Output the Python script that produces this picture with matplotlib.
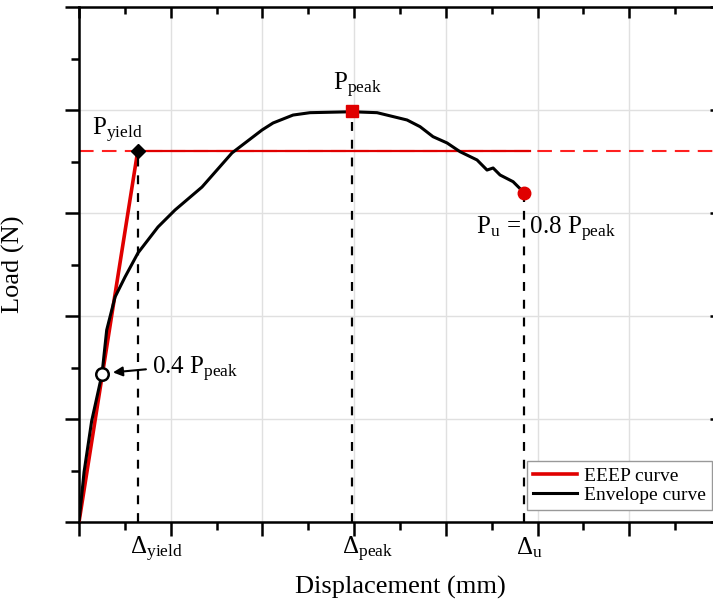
import numpy as np
import matplotlib.pyplot as plt

plt.rcParams['font.family'] = ['Liberation Serif', 'DejaVu Serif']
plt.rcParams['mathtext.fontset'] = 'custom'
plt.rcParams['mathtext.rm'] = 'Liberation Serif'
plt.rcParams['mathtext.it'] = 'Liberation Serif:italic'

# envelope curve (axis units: major tick = 1)
env_x = [0.0, 0.055, 0.138, 0.251, 0.302, 0.393, 0.502, 0.643, 0.861, 1.047,
         1.341, 1.668, 1.996, 2.116, 2.334, 2.519, 2.977, 3.250, 3.577, 3.719,
         3.860, 4.013, 4.155, 4.340, 4.449, 4.515, 4.591, 4.733, 4.842]
env_y = [0.0, 0.485, 0.980, 1.437, 1.864, 2.184, 2.379, 2.612, 2.864, 3.029,
         3.252, 3.583, 3.806, 3.874, 3.951, 3.974, 3.983, 3.974, 3.903, 3.838,
         3.741, 3.680, 3.595, 3.515, 3.417, 3.437, 3.369, 3.304, 3.207]

d_yield, p_yield = 0.64, 3.60
d_peak, p_peak = 2.977, 3.99
d_u, p_u = 4.853, 3.19
d_04, p_04 = 0.251, 1.44
eeep_end = 4.92

fig = plt.figure(figsize=(7.13, 6.03), dpi=100)
pos = [79/713, 81/603, 642/713, 515/603]
ax = fig.add_axes(pos)
ax.set_xlim(0, 7)
ax.set_ylim(0, 5)

ax.grid(True, which='major', color='#e0e0e0', lw=1, zorder=0)

# EEEP curve
ax.plot([0, 7], [p_yield, p_yield], color='#ff2020', lw=1.5, ls=(0, (7, 4)), zorder=2)
ax.plot([d_yield, eeep_end], [p_yield, p_yield], color='#e00000', lw=1.6, zorder=3)
eeep, = ax.plot([0, d_yield], [0, p_yield], color='#e00000', lw=2.6, zorder=3,
                label='EEEP curve')

# envelope
env, = ax.plot(env_x, env_y, color='black', lw=2.2, zorder=4, label='Envelope curve')

# vertical guides
for dx, py in [(d_yield, p_yield), (d_peak, p_peak), (d_u, p_u)]:
    ax.plot([dx, dx], [0, py], color='black', lw=1.6, ls=(0, (4, 4)), zorder=3)

# markers
ax.plot(d_yield, p_yield, marker='D', color='black', ms=7, zorder=6)
ax.plot(d_peak, p_peak, marker='s', color='#e00000', ms=8, zorder=6)
ax.plot(d_u, p_u, marker='o', color='#e00000', ms=9, zorder=6)
ax.plot(d_04, p_04, marker='o', mfc='white', mec='black', mew=1.8, ms=9, zorder=6)

fs = 18
ax.text(0.14, 3.75, r'$\mathrm{P}_{\mathrm{yield}}$', fontsize=fs)
ax.text(2.77, 4.19, r'$\mathrm{P}_{\mathrm{peak}}$', fontsize=fs)
ax.text(4.33, 2.79, r'$\mathrm{P}_{\mathrm{u}}\,=\ 0.8\ \mathrm{P}_{\mathrm{peak}}$', fontsize=fs)
ax.text(0.80, 1.43, r'$0.4\ \mathrm{P}_{\mathrm{peak}}$', fontsize=fs)
ax.annotate('', xy=(0.34, 1.45), xytext=(0.76, 1.485),
            arrowprops=dict(arrowstyle='-|>', color='black', lw=1.5,
                            mutation_scale=14), zorder=7)

for dx, lab in [(0.556, 'yield'), (2.865, 'peak'), (4.77, 'u')]:
    ax.text(dx, -0.13, r'$\Delta_{\mathrm{%s}}$' % lab, fontsize=fs, va='top',
            ha='left', clip_on=False)

ax.set_xlabel('Displacement (mm)', fontsize=19)
ax.set_ylabel('Load (N)', fontsize=19)
ax.xaxis.set_label_coords(321/642, -0.105)
ax.yaxis.set_label_coords(-54/642, 0.5)

ax.set_xticks(np.arange(0, 8, 1))
ax.set_xticks(np.arange(0, 7.5, 0.5), minor=True)
ax.set_yticks(np.arange(0, 6, 1))
ax.set_yticks(np.arange(0, 5.5, 0.5), minor=True)
ax.set_xticklabels([])
ax.set_yticklabels([])
ax.tick_params(which='major', direction='out', length=10, width=1.8)
ax.tick_params(which='minor', direction='out', length=6, width=1.8)
for s in ax.spines.values():
    s.set_linewidth(1.8)

# inward ticks on top and right
ax2 = fig.add_axes(pos, frameon=False)
ax2.patch.set_visible(False)
ax2.set_xlim(0, 7)
ax2.set_ylim(0, 5)
ax2.xaxis.tick_top()
ax2.yaxis.tick_right()
ax2.set_xticks(np.arange(0, 8, 1))
ax2.set_xticks(np.arange(0, 7.5, 0.5), minor=True)
ax2.set_yticks(np.arange(0, 6, 1))
ax2.set_yticks(np.arange(0, 5.5, 0.5), minor=True)
ax2.set_xticklabels([])
ax2.set_yticklabels([])
ax2.tick_params(which='major', direction='in', length=8, width=1.8)
ax2.tick_params(which='minor', direction='in', length=5, width=1.8)

leg = ax.legend(handles=[eeep, env], loc='lower right', fontsize=14,
                bbox_to_anchor=(712/713, 93/603), bbox_transform=fig.transFigure,
                fancybox=False, edgecolor='#999999', framealpha=1,
                handlelength=2.3, handletextpad=0.35, borderpad=0.3,
                borderaxespad=0, labelspacing=0.1)
leg.get_frame().set_linewidth(1.0)
leg.set_zorder(10)

fig.savefig('out.png', dpi=100)
